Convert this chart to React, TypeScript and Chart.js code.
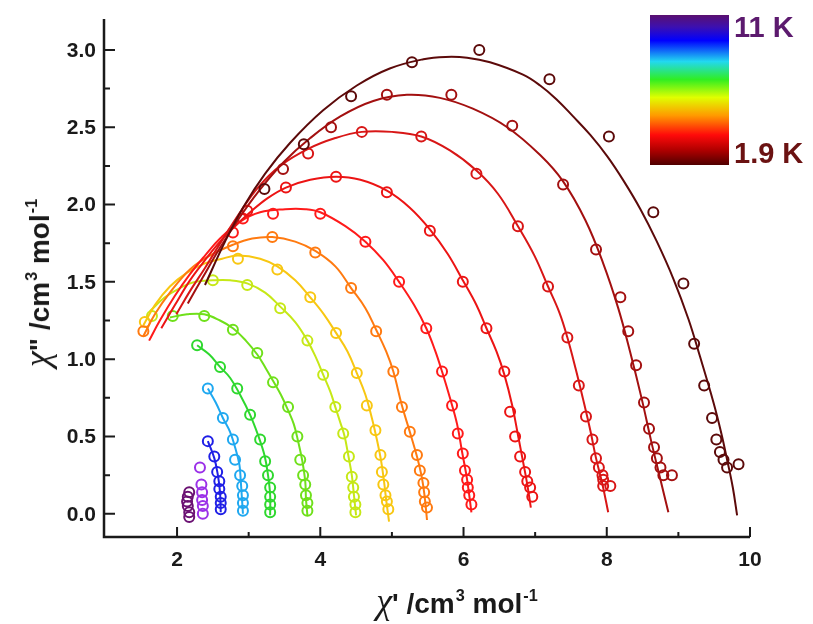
import React, { useEffect, useRef } from "react";
import { Chart, registerables } from "chart.js";

Chart.register(...registerables);

type P = [number, number];

// axis ranges (χ' horizontally, χ'' vertically)
const X_MIN = 0.98;
const X_MAX = 10;
const Y_MIN = -0.15;
const Y_MAX = 3.2;

const xMajor = [2, 4, 6, 8, 10];
const xMinor = [3, 5, 7, 9];
const xLabels = ["2", "4", "6", "8", "10"];
const yMajor = [0, 0.5, 1, 1.5, 2, 2.5, 3];
const yMinor = [0.25, 0.75, 1.25, 1.75, 2.25, 2.75];
const yLabels = ["0.0", "0.5", "1.0", "1.5", "2.0", "2.5", "3.0"];

// series colours, 11 K (index 0) down to 1.9 K (index 13)
const seriesColors = [
  "#6b1173", "#9b30e8", "#1f1fe6", "#1fa8f0", "#2ed82e", "#6fe01a", "#c6e817",
  "#f8c712", "#ff7a10", "#ff1a1a", "#ec1414", "#d81616", "#a31010", "#5c0a0a",
];

// measured points (χ', χ'')
const obs1: P[] = [[2.17, 0.14], [2.15, 0.11], [2.14, 0.08], [2.15, 0.05], [2.17, 0.01], [2.17, -0.02]];
const obs2: P[] = [[2.32, 0.30], [2.34, 0.19], [2.35, 0.14], [2.35, 0.09], [2.36, 0.05], [2.36, 0.0]];
const obs3: P[] = [[2.43, 0.47], [2.52, 0.37], [2.56, 0.27], [2.59, 0.21], [2.59, 0.16], [2.61, 0.11], [2.61, 0.07], [2.61, 0.03]];
const obs4: P[] = [[2.43, 0.81], [2.64, 0.62], [2.78, 0.48], [2.81, 0.35], [2.88, 0.25], [2.91, 0.18], [2.92, 0.12], [2.92, 0.07], [2.92, 0.02]];
const obs5: P[] = [[2.28, 1.09], [2.60, 0.95], [2.84, 0.81], [3.02, 0.64], [3.16, 0.48], [3.23, 0.34], [3.27, 0.25], [3.30, 0.17], [3.30, 0.11], [3.30, 0.06], [3.30, 0.01]];
const obs6: P[] = [[1.94, 1.28], [2.38, 1.28], [2.78, 1.19], [3.12, 1.04], [3.34, 0.85], [3.55, 0.69], [3.68, 0.50], [3.72, 0.35], [3.76, 0.25], [3.79, 0.19], [3.80, 0.12], [3.82, 0.07], [3.82, 0.02]];
const obs7: P[] = [[1.65, 1.28], [2.50, 1.51], [2.98, 1.48], [3.44, 1.33], [3.82, 1.12], [4.04, 0.90], [4.21, 0.69], [4.32, 0.52], [4.40, 0.37], [4.44, 0.24], [4.46, 0.17], [4.47, 0.11], [4.49, 0.06], [4.49, 0.01]];
const obs8: P[] = [[1.55, 1.24], [2.85, 1.65], [3.40, 1.58], [3.86, 1.40], [4.22, 1.17], [4.51, 0.91], [4.65, 0.70], [4.77, 0.54], [4.84, 0.38], [4.86, 0.27], [4.88, 0.19], [4.91, 0.12], [4.93, 0.08], [4.95, 0.03]];
const obs9: P[] = [[1.53, 1.18], [2.78, 1.73], [3.33, 1.79], [3.93, 1.69], [4.43, 1.46], [4.78, 1.18], [5.02, 0.92], [5.14, 0.69], [5.25, 0.53], [5.35, 0.38], [5.39, 0.28], [5.44, 0.20], [5.45, 0.14], [5.46, 0.08], [5.49, 0.04]];
const obs10: P[] = [[2.78, 1.82], [2.92, 1.91], [3.34, 1.94], [4.00, 1.94], [4.63, 1.76], [5.10, 1.50], [5.48, 1.20], [5.70, 0.92], [5.84, 0.70], [5.92, 0.52], [5.99, 0.39], [6.02, 0.28], [6.05, 0.22], [6.06, 0.17], [6.08, 0.12], [6.11, 0.06]];
const obs11: P[] = [[2.98, 1.96], [3.52, 2.11], [4.22, 2.18], [4.93, 2.08], [5.53, 1.83], [5.99, 1.50], [6.32, 1.20], [6.57, 0.92], [6.65, 0.66], [6.72, 0.50], [6.79, 0.37], [6.86, 0.27], [6.89, 0.21], [6.93, 0.17], [6.96, 0.11]];
const obs12: P[] = [[3.83, 2.33], [4.58, 2.47], [5.41, 2.44], [6.18, 2.20], [6.76, 1.86], [7.18, 1.47], [7.45, 1.14], [7.61, 0.83], [7.71, 0.63], [7.80, 0.48], [7.85, 0.36], [7.89, 0.30], [7.94, 0.25], [7.95, 0.22], [7.95, 0.18], [8.05, 0.18]];
const obs13: P[] = [[3.48, 2.23], [4.15, 2.50], [4.93, 2.71], [5.83, 2.71], [6.68, 2.51], [7.39, 2.13], [7.85, 1.71], [8.19, 1.40], [8.30, 1.18], [8.41, 0.96], [8.52, 0.72], [8.59, 0.55], [8.66, 0.43], [8.70, 0.36], [8.75, 0.30], [8.79, 0.25], [8.91, 0.25]];
const obs14: P[] = [[3.22, 2.10], [3.77, 2.39], [4.43, 2.70], [5.28, 2.92], [6.22, 3.0], [7.20, 2.81], [8.03, 2.44], [8.65, 1.95], [9.07, 1.49], [9.22, 1.10], [9.36, 0.83], [9.47, 0.62], [9.53, 0.48], [9.58, 0.40], [9.63, 0.35], [9.68, 0.30], [9.84, 0.32]];

// fitted curves
const fit3: P[] = [[2.43, 0.47], [2.52, 0.36], [2.57, 0.25], [2.60, 0.14], [2.61, 0.01]];
const fit4: P[] = [[2.43, 0.81], [2.54, 0.72], [2.64, 0.62], [2.74, 0.53], [2.81, 0.43], [2.87, 0.32], [2.89, 0.21], [2.92, 0.0]];
const fit5: P[] = [[2.28, 1.09], [2.45, 1.03], [2.60, 0.95], [2.74, 0.88], [2.88, 0.77], [3.02, 0.64], [3.13, 0.51], [3.22, 0.38], [3.27, 0.25], [3.30, 0.12], [3.30, -0.01]];
const fit6: P[] = [[1.90, 1.27], [2.14, 1.29], [2.38, 1.29], [2.60, 1.25], [2.78, 1.20], [2.96, 1.12], [3.12, 1.03], [3.24, 0.94], [3.34, 0.86], [3.45, 0.77], [3.55, 0.67], [3.63, 0.58], [3.69, 0.47], [3.75, 0.34], [3.79, 0.21], [3.80, 0.10], [3.82, -0.01]];
const fit7: P[] = [[1.62, 1.31], [1.83, 1.40], [2.04, 1.46], [2.25, 1.50], [2.50, 1.51], [2.74, 1.51], [2.98, 1.49], [3.23, 1.43], [3.44, 1.34], [3.65, 1.24], [3.82, 1.12], [3.94, 1.01], [4.04, 0.90], [4.14, 0.79], [4.21, 0.69], [4.28, 0.59], [4.34, 0.50], [4.39, 0.38], [4.44, 0.25], [4.47, 0.12], [4.50, -0.01]];
const fit8: P[] = [[1.53, 1.22], [1.69, 1.35], [1.90, 1.47], [2.14, 1.56], [2.39, 1.62], [2.63, 1.65], [2.85, 1.67], [3.16, 1.65], [3.40, 1.60], [3.65, 1.51], [3.86, 1.40], [4.05, 1.29], [4.22, 1.17], [4.38, 1.05], [4.51, 0.91], [4.63, 0.77], [4.72, 0.62], [4.79, 0.48], [4.85, 0.34], [4.89, 0.21], [4.92, 0.09], [4.96, -0.05]];
const fit9: P[] = [[1.53, 1.15], [1.69, 1.29], [1.90, 1.43], [2.18, 1.58], [2.46, 1.67], [2.78, 1.74], [3.05, 1.78], [3.33, 1.79], [3.65, 1.76], [3.93, 1.70], [4.21, 1.60], [4.43, 1.46], [4.63, 1.33], [4.78, 1.19], [4.92, 1.05], [5.02, 0.92], [5.14, 0.70], [5.25, 0.53], [5.35, 0.37], [5.42, 0.23], [5.46, 0.10], [5.49, -0.04]];
const fit10: P[] = [[1.61, 1.12], [1.76, 1.25], [1.97, 1.41], [2.18, 1.55], [2.39, 1.67], [2.60, 1.78], [2.88, 1.89], [3.16, 1.95], [3.51, 1.97], [3.79, 1.97], [4.00, 1.95], [4.35, 1.86], [4.63, 1.76], [4.88, 1.64], [5.10, 1.50], [5.31, 1.35], [5.48, 1.20], [5.60, 1.06], [5.70, 0.92], [5.81, 0.75], [5.91, 0.58], [5.98, 0.40], [6.04, 0.25], [6.08, 0.12], [6.11, 0.01]];
const fit11: P[] = [[1.78, 1.20], [1.97, 1.35], [2.18, 1.51], [2.39, 1.64], [2.60, 1.76], [2.81, 1.86], [3.02, 1.95], [3.26, 2.04], [3.52, 2.11], [3.86, 2.16], [4.22, 2.18], [4.56, 2.16], [4.93, 2.09], [5.25, 1.98], [5.53, 1.84], [5.78, 1.68], [5.99, 1.51], [6.18, 1.35], [6.32, 1.20], [6.46, 1.05], [6.57, 0.90], [6.68, 0.70], [6.76, 0.51], [6.83, 0.34], [6.89, 0.19], [6.94, 0.04]];
const fit12: P[] = [[1.99, 1.29], [2.18, 1.44], [2.39, 1.59], [2.63, 1.77], [2.88, 1.95], [3.13, 2.11], [3.44, 2.25], [3.83, 2.36], [4.21, 2.43], [4.58, 2.47], [5.00, 2.47], [5.41, 2.44], [5.81, 2.35], [6.18, 2.22], [6.48, 2.07], [6.76, 1.86], [6.99, 1.67], [7.18, 1.47], [7.34, 1.30], [7.45, 1.14], [7.57, 0.93], [7.67, 0.74], [7.77, 0.54], [7.85, 0.36], [7.94, 0.19], [8.02, 0.01]];
const fit13: P[] = [[2.15, 1.36], [2.36, 1.53], [2.60, 1.72], [2.85, 1.90], [3.13, 2.08], [3.48, 2.27], [3.86, 2.43], [4.28, 2.57], [4.74, 2.67], [5.21, 2.71], [5.67, 2.69], [6.13, 2.62], [6.61, 2.50], [7.07, 2.32], [7.39, 2.15], [7.70, 1.90], [7.95, 1.62], [8.16, 1.33], [8.33, 1.04], [8.49, 0.74], [8.62, 0.47], [8.75, 0.22], [8.86, 0.01]];
const fit14: P[] = [[2.39, 1.48], [2.67, 1.76], [2.92, 1.98], [3.23, 2.20], [3.58, 2.40], [4.04, 2.61], [4.51, 2.77], [4.97, 2.88], [5.44, 2.94], [5.75, 2.955], [6.05, 2.95], [6.37, 2.92], [6.83, 2.84], [7.07, 2.77], [7.30, 2.68], [7.53, 2.57], [7.77, 2.45], [8.01, 2.31], [8.24, 2.15], [8.47, 1.97], [8.70, 1.76], [8.93, 1.52], [9.14, 1.26], [9.30, 1.02], [9.49, 0.72], [9.60, 0.52], [9.68, 0.35], [9.76, 0.17], [9.82, -0.01]];

const observed: P[][] = [obs1, obs2, obs3, obs4, obs5, obs6, obs7, obs8, obs9, obs10, obs11, obs12, obs13, obs14];
const fitted: (P[] | null)[] = [null, null, fit3, fit4, fit5, fit6, fit7, fit8, fit9, fit10, fit11, fit12, fit13, fit14];

// temperature colour bar
const colorbarStops: [number, string][] = [
  [0, "#5a1070"], [0.08, "#3c10b0"], [0.17, "#0000ff"], [0.31, "#22d8f0"],
  [0.43, "#30ee22"], [0.55, "#e0ff00"], [0.67, "#ff9a00"], [0.8, "#ff0a0a"],
  [0.9, "#b00000"], [1, "#500000"],
];
const colorbarTop = "11 K";
const colorbarBottom = "1.9 K";

const SANS = '"Liberation Sans", Arial, Helvetica, sans-serif';
const SERIF = '"Liberation Serif", "Times New Roman", serif';

const axesPlugin = {
  id: "inwardAxes",
  afterDatasetsDraw(chart: any) {
    const { ctx, chartArea: a, scales } = chart;
    const xs = scales.x;
    const ys = scales.y;
    ctx.save();
    ctx.strokeStyle = "#1a1a1a";
    ctx.lineWidth = 2.5;
    ctx.beginPath();
    ctx.moveTo(a.left, a.top);
    ctx.lineTo(a.left, a.bottom);
    ctx.lineTo(a.right, a.bottom);
    ctx.stroke();

    ctx.lineWidth = 2;
    ctx.beginPath();
    xMajor.forEach((v) => {
      const px = xs.getPixelForValue(v);
      ctx.moveTo(px, a.bottom);
      ctx.lineTo(px, a.bottom - 10);
    });
    xMinor.forEach((v) => {
      const px = xs.getPixelForValue(v);
      ctx.moveTo(px, a.bottom);
      ctx.lineTo(px, a.bottom - 5);
    });
    yMajor.forEach((v) => {
      const py = ys.getPixelForValue(v);
      ctx.moveTo(a.left, py);
      ctx.lineTo(a.left + 11, py);
    });
    yMinor.forEach((v) => {
      const py = ys.getPixelForValue(v);
      ctx.moveTo(a.left, py);
      ctx.lineTo(a.left + 6, py);
    });
    ctx.stroke();

    ctx.fillStyle = "#1a1a1a";
    ctx.font = `bold 21px ${SANS}`;
    ctx.textAlign = "center";
    ctx.textBaseline = "middle";
    xMajor.forEach((v, i) => {
      ctx.fillText(xLabels[i], xs.getPixelForValue(v), a.bottom + 23);
    });
    ctx.textAlign = "right";
    yMajor.forEach((v, i) => {
      ctx.fillText(yLabels[i], a.left - 8, ys.getPixelForValue(v) + 1);
    });
    ctx.restore();
  },
};

function Sup({ children }: { children: React.ReactNode }) {
  return (
    <span style={{ fontSize: "0.58em", position: "relative", top: "-0.72em", marginLeft: 1 }}>
      {children}
    </span>
  );
}

function Unit() {
  return (
    <span style={{ fontFamily: SANS, fontWeight: "bold", fontSize: 28 }}>
      {" "}/cm<Sup>3</Sup> mol<Sup>-1</Sup>
    </span>
  );
}

export default function App() {
  const canvasRef = useRef<HTMLCanvasElement | null>(null);

  useEffect(() => {
    if (!canvasRef.current) return;
    const datasets: any[] = [];
    for (let i = observed.length - 1; i >= 0; i--) {
      const color = seriesColors[i];
      const fit = fitted[i];
      if (fit) {
        datasets.push({
          label: `fit ${i + 1}`,
          data: fit.map(([x, y]) => ({ x, y })),
          showLine: true,
          borderColor: color,
          borderWidth: 2,
          pointRadius: 0,
          tension: 0.4,
          fill: false,
        });
      }
      datasets.push({
        label: `data ${i + 1}`,
        data: observed[i].map(([x, y]) => ({ x, y })),
        showLine: false,
        pointStyle: "circle",
        pointRadius: 5,
        pointBorderWidth: 2,
        pointBorderColor: color,
        pointBackgroundColor: "rgba(0,0,0,0)",
        borderColor: color,
        backgroundColor: "rgba(0,0,0,0)",
      });
    }

    const chart = new Chart(canvasRef.current, {
      type: "scatter",
      data: { datasets },
      options: {
        animation: false,
        responsive: false,
        devicePixelRatio: 1,
        layout: { padding: { left: 104, right: 63, top: 19, bottom: 87 } },
        plugins: { legend: { display: false }, tooltip: { enabled: false } },
        elements: { point: { hoverRadius: 5 } },
        scales: {
          x: { type: "linear", min: X_MIN, max: X_MAX, display: false },
          y: { type: "linear", min: Y_MIN, max: Y_MAX, display: false },
        },
      } as any,
      plugins: [axesPlugin],
    });
    return () => chart.destroy();
  }, []);

  const gradient = `linear-gradient(to bottom, ${colorbarStops
    .map(([p, c]) => `${c} ${p * 100}%`)
    .join(", ")})`;

  return (
    <div style={{ position: "fixed", left: 0, top: 0, width: 813, height: 624, background: "#ffffff", overflow: "hidden" }}>
      <canvas ref={canvasRef} width={813} height={624} style={{ position: "absolute", left: 0, top: 0 }} />

      {/* x-axis title */}
      <div
        style={{
          position: "absolute",
          left: 457,
          top: 601,
          transform: "translate(-50%, -50%)",
          whiteSpace: "nowrap",
          color: "#1a1a1a",
          lineHeight: 1,
        }}
      >
        <span style={{ fontFamily: SERIF, fontStyle: "italic", fontSize: 36 }}>χ</span>
        <span style={{ fontFamily: SANS, fontWeight: "bold", fontSize: 28 }}>'</span>
        <Unit />
      </div>

      {/* y-axis title */}
      <div
        style={{
          position: "absolute",
          left: 37,
          top: 283,
          transform: "translate(-50%, -50%) rotate(-90deg)",
          whiteSpace: "nowrap",
          color: "#1a1a1a",
          lineHeight: 1,
        }}
      >
        <span style={{ fontFamily: SERIF, fontStyle: "italic", fontSize: 36 }}>χ</span>
        <span style={{ fontFamily: SANS, fontWeight: "bold", fontSize: 28 }}>"</span>
        <Unit />
      </div>

      {/* temperature colour bar */}
      <div
        style={{
          position: "absolute",
          left: 650,
          top: 15,
          width: 79,
          height: 150,
          background: gradient,
        }}
      />
      <div
        style={{
          position: "absolute",
          left: 734,
          top: 27,
          transform: "translateY(-50%)",
          fontFamily: SANS,
          fontWeight: "bold",
          fontSize: 29,
          color: "#5c1a6e",
          whiteSpace: "nowrap",
          lineHeight: 1,
        }}
      >
        {colorbarTop}
      </div>
      <div
        style={{
          position: "absolute",
          left: 734,
          top: 153,
          transform: "translateY(-50%)",
          fontFamily: SANS,
          fontWeight: "bold",
          fontSize: 29,
          color: "#6b1212",
          whiteSpace: "nowrap",
          lineHeight: 1,
        }}
      >
        {colorbarBottom}
      </div>
    </div>
  );
}
